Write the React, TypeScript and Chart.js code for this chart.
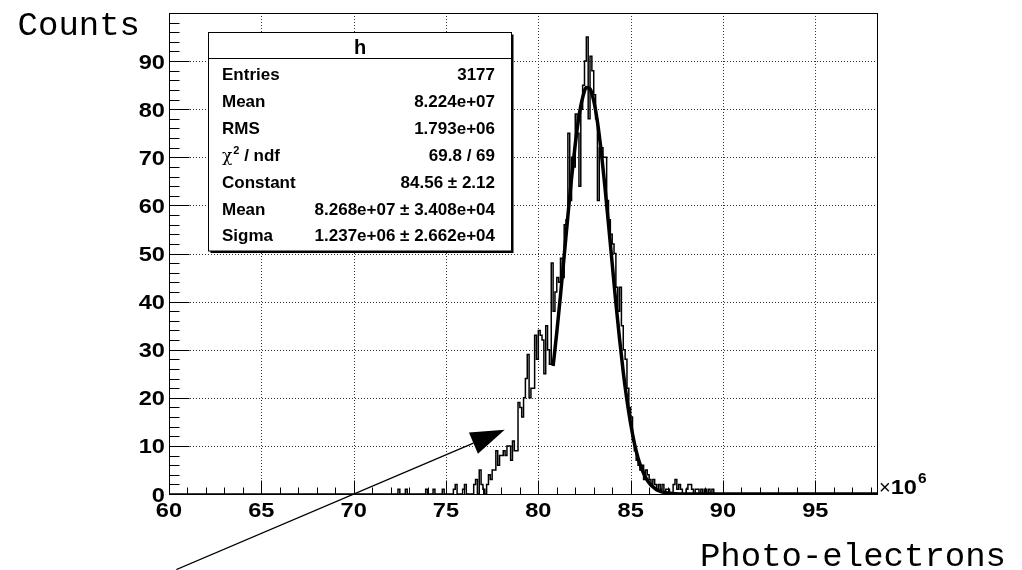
import { useEffect, useRef } from "react";
import { Chart, registerables } from "chart.js";

Chart.register(...registerables);

// ---- axis ranges ----
const xMin = 60;
const xMax = 98.34;
const yMin = 0;
const yMax = 100;

// ---- histogram (bin width 0.1, in units of 10^6 photo-electrons) ----
const binWidth = 0.1;
const firstBin = 72.0;
const countsLowTail = [
  0, 0, 0, 0, 1, 0, 0, 0, 1, 0, // 72.x
  0, 0, 0, 0, 0, 0, 0, 0, 0, 1, // 73.x
  0, 0, 0, 1, 0, 0, 0, 0, 1, 0, // 74.x
  0, 0, 0, 0, 1, 2, 0, 0, 0, 1, // 75.x
  2, 0, 0, 0, 0, 2, 3, 0, 5, 2, // 76.x
];
const countsRise = [
  1, 0, 2, 4, 3, 5, 5, 9, 6, 8, // 77.x
  8, 9, 8, 10, 10, 7, 11, 9, 9, 19, // 78.x
  18, 16, 20, 24, 29, 20, 22, 22, 33, 28, // 79.x
  34, 33, 32, 25, 35, 30, 27, 48, 38, 42, // 80.x
];
const countsPeak = [
  45, 44, 49, 45, 56, 57, 75, 61, 70, 68, // 81.x
  79, 75, 64, 80, 85, 90, 95, 78, 91, 88, // 82.x
  83, 78, 61, 72, 72, 70, 70, 61, 57, 54, // 83.x
  52, 50, 43, 38, 43, 35, 30, 28, 22, 18, // 84.x
];
const countsHighTail = [
  16, 11, 9, 7, 6, 5, 6, 3, 5, 4, // 85.x
  3, 2, 3, 2, 1, 2, 1, 2, 0, 1, // 86.x
  1, 0, 0, 2, 3, 1, 2, 1, 0, 0, // 87.x
  1, 2, 2, 1, 0, 1, 1, 0, 1, 0, // 88.x
  1, 0, 1, 0, 1, 0, 0, 0, 0, 0, // 89.x
];

// ---- gaussian fit curve ----
const fitX = [80.8, 81.0, 81.2, 81.4, 81.6, 81.8, 82.0, 82.2, 82.4, 82.6, 82.8, 83.0, 83.2, 83.4, 83.6, 83.8, 84.0, 84.2, 84.4, 84.6, 84.8, 85.0, 85.2, 85.4, 85.6, 85.8, 86.0, 86.2, 86.4, 86.6, 86.8, 87.0, 87.4, 88.0, 98.34];
const fitY = [26.6, 33.6, 41.3, 49.5, 57.8, 65.7, 72.7, 78.5, 82.4, 84.5, 84.2, 81.8, 77.4, 71.4, 64.1, 56.1, 47.9, 39.7, 32.2, 25.3, 19.5, 14.6, 10.6, 7.5, 5.2, 3.5, 2.3, 1.5, 0.9, 0.56, 0.33, 0.19, 0.06, 0, 0];

// ---- ticks ----
const xMajorTicks = [60, 65, 70, 75, 80, 85, 90, 95];
const xTickLabels = ["60", "65", "70", "75", "80", "85", "90", "95"];
const yMajorTicks = [0, 10, 20, 30, 40, 50, 60, 70, 80, 90];
const yTickLabels = ["0", "10", "20", "30", "40", "50", "60", "70", "80", "90"];
const xMinorStep = 1;
const yMinorStep = 2;

// ---- text ----
const xTitle = "Photo-electrons";
const yTitle = "Counts";
const statsTitle = "h";
const statsLabels = ["Entries", "Mean", "RMS", "χ2 / ndf", "Constant", "Mean", "Sigma"];
const statsValues = ["3177", "8.224e+07", "1.793e+06", "69.8 / 69", "84.56 ± 2.12", "8.268e+07 ± 3.408e+04", "1.237e+06 ± 2.662e+04"];

// ---- arrow annotation (data coordinates) ----
const arrowFrom = { x: 60.4, y: -15.7 };
const arrowTo = { x: 78.18, y: 13.36 };

const SANS = "'Liberation Sans', Arial, Helvetica, sans-serif";
const MONO = "'Liberation Mono', 'Courier New', monospace";

function buildHistPoints() {
  const all = [...countsLowTail, ...countsRise, ...countsPeak, ...countsHighTail];
  const pts: { x: number; y: number }[] = [{ x: xMin, y: 0 }];
  all.forEach((c, i) => {
    const x0 = firstBin + i * binWidth;
    pts.push({ x: x0, y: c });
    pts.push({ x: x0 + binWidth, y: c });
  });
  const end = firstBin + all.length * binWidth;
  pts.push({ x: end, y: 0 });
  pts.push({ x: xMax, y: 0 });
  return pts;
}

function text(ctx: CanvasRenderingContext2D, s: string, x: number, y: number, font: string, align: CanvasTextAlign, sx = 1) {
  ctx.save();
  ctx.font = font;
  ctx.translate(x, y);
  ctx.scale(sx, 1);
  ctx.textAlign = align;
  ctx.textBaseline = "alphabetic";
  ctx.fillStyle = "#000";
  ctx.fillText(s, 0, 0);
  const w = ctx.measureText(s).width * sx;
  ctx.restore();
  return w;
}

const rootDecor = {
  id: "rootDecor",
  beforeDraw(chart: any) {
    const ctx = chart.ctx;
    ctx.save();
    ctx.fillStyle = "#fff";
    ctx.fillRect(0, 0, chart.width, chart.height);
    ctx.restore();
  },
  beforeDatasetsDraw(chart: any) {
    const { ctx, chartArea: a, scales } = chart;
    const xs = scales.x, ys = scales.y;
    ctx.save();
    ctx.strokeStyle = "#333";
    ctx.lineWidth = 1;
    ctx.setLineDash([1, 2]);
    xMajorTicks.forEach((v) => {
      if (v <= xMin) return;
      const px = Math.round(xs.getPixelForValue(v)) + 0.5;
      ctx.beginPath();
      ctx.moveTo(px, a.top);
      ctx.lineTo(px, a.bottom);
      ctx.stroke();
    });
    yMajorTicks.forEach((v) => {
      if (v <= yMin) return;
      const py = Math.round(ys.getPixelForValue(v)) + 0.5;
      ctx.beginPath();
      ctx.moveTo(a.left, py);
      ctx.lineTo(a.right, py);
      ctx.stroke();
    });
    ctx.restore();
  },
  afterDatasetsDraw(chart: any) {
    const { ctx, chartArea: a, scales } = chart;
    const xs = scales.x, ys = scales.y;
    ctx.save();
    ctx.strokeStyle = "#000";
    ctx.lineWidth = 1;
    ctx.setLineDash([]);
    const L = Math.round(a.left) + 0.5, R = Math.round(a.right) + 0.5;
    const T = Math.round(a.top) + 0.5, B = Math.round(a.bottom) + 0.5;
    ctx.strokeRect(L, T, R - L, B - T);

    // x ticks
    for (let v = xMin; v <= xMax + 1e-9; v += xMinorStep) {
      const major = xMajorTicks.some((m) => Math.abs(m - v) < 1e-6);
      const px = Math.round(xs.getPixelForValue(v)) + 0.5;
      ctx.beginPath();
      ctx.moveTo(px, B);
      ctx.lineTo(px, B - (major ? 14 : 7));
      ctx.stroke();
    }
    // y ticks
    for (let v = yMin; v <= yMax - 1e-9; v += yMinorStep) {
      const major = yMajorTicks.some((m) => Math.abs(m - v) < 1e-6);
      const py = Math.round(ys.getPixelForValue(v)) + 0.5;
      ctx.beginPath();
      ctx.moveTo(L, py);
      ctx.lineTo(L + (major ? 20 : 10), py);
      ctx.stroke();
    }
    ctx.restore();

    const tickFont = `bold 20px ${SANS}`;
    xMajorTicks.forEach((v, i) => {
      text(ctx, xTickLabels[i], xs.getPixelForValue(v), 517, tickFont, "center", 1.18);
    });
    yMajorTicks.forEach((v, i) => {
      text(ctx, yTickLabels[i], 165, ys.getPixelForValue(v) + 7.5, tickFont, "right", 1.18);
    });

    // x10^6
    let cx = 879;
    cx += text(ctx, "×", cx, 494, `20px ${SANS}`, "left");
    cx += text(ctx, "10", cx, 494, tickFont, "left", 1.18);
    text(ctx, "6", cx + 1, 483, `bold 14px ${SANS}`, "left", 1.1);

    // axis titles
    text(ctx, yTitle, 140, 35, `34px ${MONO}`, "right");
    text(ctx, xTitle, 1006, 566, `34px ${MONO}`, "right");

    // stats box
    const bx = 208.5, by = 32.5, bw = 303, bh = 218.5;
    ctx.save();
    ctx.fillStyle = "#000";
    ctx.fillRect(bx + 2, by + 2, bw, bh);
    ctx.fillStyle = "#fff";
    ctx.fillRect(bx, by, bw, bh);
    ctx.strokeStyle = "#000";
    ctx.lineWidth = 1;
    ctx.strokeRect(bx, by, bw, bh);
    ctx.beginPath();
    ctx.moveTo(bx, 58.5);
    ctx.lineTo(bx + bw, 58.5);
    ctx.stroke();
    ctx.restore();
    text(ctx, statsTitle, 360, 54, `bold 20px ${SANS}`, "center");
    const rowFont = `bold 17px ${SANS}`;
    statsLabels.forEach((lab, i) => {
      const yb = 80 + i * 26.9;
      if (lab.startsWith("χ2")) {
        let lx = 222;
        lx += text(ctx, "χ", lx, yb, `17px 'DejaVu Serif', serif`, "left");
        lx += text(ctx, "2", lx + 1, yb - 7, `bold 11px ${SANS}`, "left") + 1;
        text(ctx, lab.slice(2), lx, yb, rowFont, "left");
      } else {
        text(ctx, lab, 222, yb, rowFont, "left");
      }
      text(ctx, statsValues[i], 495, yb, rowFont, "right");
    });

    // arrow
    const x1 = xs.getPixelForValue(arrowFrom.x), y1 = ys.getPixelForValue(arrowFrom.y);
    const x2 = xs.getPixelForValue(arrowTo.x), y2 = ys.getPixelForValue(arrowTo.y);
    const ang = Math.atan2(y2 - y1, x2 - x1);
    const hl = 34, hw = 11.5;
    const bxp = x2 - hl * Math.cos(ang), byp = y2 - hl * Math.sin(ang);
    ctx.save();
    ctx.strokeStyle = "#000";
    ctx.lineWidth = 1.3;
    ctx.beginPath();
    ctx.moveTo(x1, y1);
    ctx.lineTo(bxp, byp);
    ctx.stroke();
    ctx.fillStyle = "#000";
    ctx.beginPath();
    ctx.moveTo(x2, y2);
    ctx.lineTo(bxp + hw * Math.sin(ang), byp - hw * Math.cos(ang));
    ctx.lineTo(bxp - hw * Math.sin(ang), byp + hw * Math.cos(ang));
    ctx.closePath();
    ctx.fill();
    ctx.restore();
  },
};

export default function App() {
  const ref = useRef<HTMLCanvasElement | null>(null);
  useEffect(() => {
    if (!ref.current) return;
    const histPts = buildHistPoints();
    const fitPts = fitX.map((x, i) => ({ x, y: fitY[i] }));
    const chart = new Chart(ref.current, {
      type: "line",
      data: {
        datasets: [
          {
            label: "h",
            data: histPts,
            borderColor: "#000",
            borderWidth: 1.5,
            pointRadius: 0,
            tension: 0,
            fill: false,
          },
          {
            label: "fit",
            data: fitPts,
            borderColor: "#000",
            borderWidth: 3.5,
            pointRadius: 0,
            cubicInterpolationMode: "monotone",
            fill: false,
          },
        ],
      },
      options: {
        responsive: false,
        animation: false,
        devicePixelRatio: 1,
        events: [],
        layout: { padding: { left: 169, right: 145, top: 13, bottom: 76 } },
        plugins: { legend: { display: false }, tooltip: { enabled: false } },
        scales: {
          x: { type: "linear", min: xMin, max: xMax, display: false },
          y: { type: "linear", min: yMin, max: yMax, display: false },
        },
      },
      plugins: [rootDecor],
    } as any);
    return () => chart.destroy();
  }, []);
  return (
    <div style={{ position: "absolute", left: 0, top: 0, width: 1022, height: 570, background: "#fff" }}>
      <canvas ref={ref} width={1022} height={570} style={{ display: "block" }} />
    </div>
  );
}
